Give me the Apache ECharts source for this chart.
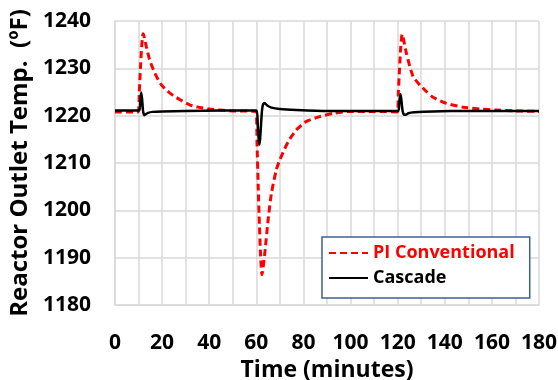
<!DOCTYPE html>
<html>
<head>
<meta charset="utf-8">
<script src="https://cdn.jsdelivr.net/npm/echarts@6/dist/echarts.min.js"></script>
<style>
  html, body { margin: 0; padding: 0; background: #fff; }
  #chart { width: 558px; height: 380px; }
</style>
</head>
<body>
<div id="chart"></div>
<script>
// PI conventional controller response (time in minutes, temp in °F)
const piTime = [0, 9.8, 10.3, 10.8, 11.3, 11.9, 12.3, 13.3, 14.7, 16.9, 19.7, 23.2, 27.5, 31.7, 35.2, 42, 50, 59.8,
  60.3, 60.8, 61.3, 61.8, 62.4, 63.6, 65.0, 66.4, 68.5, 70, 73.5, 77, 81.3, 86.9, 92.6, 99.7, 110, 119.8,
  120.3, 120.8, 121.3, 121.9, 122.3, 123.7, 126.5, 129.4, 132.2, 135, 140.7, 147.8, 154.9, 161.9, 170, 180];
const piTemp = [1220.8, 1220.8, 1225, 1230, 1234.5, 1237.3, 1236.8, 1234.6, 1231.8, 1229.0, 1226.5, 1224.8, 1223.4, 1222.3, 1221.8, 1221.3, 1221.0, 1220.9,
  1214, 1205, 1197, 1190.5, 1186.4, 1191.0, 1198.0, 1203.6, 1208.6, 1210.7, 1214.5, 1217.0, 1218.8, 1219.8, 1220.5, 1220.9, 1220.9, 1220.8,
  1225, 1230, 1234.5, 1237.2, 1236.6, 1233.2, 1228.3, 1226.5, 1225.1, 1223.9, 1222.6, 1221.8, 1221.4, 1221.2, 1221.0, 1220.9];

// Cascade controller response
const cascadeTime = [0, 10.3, 10.7, 11.1, 11.5, 11.9, 12.4, 13, 14, 16, 20, 30, 45, 60.1,
  60.6, 61.1, 61.4, 61.8, 62.3, 62.8, 63.5, 64.5, 66.4, 70, 77, 90, 105, 120.3,
  120.7, 121.2, 121.6, 122.1, 122.7, 123.4, 124.5, 127, 135, 150, 180];
const cascadeTemp = [1221.1, 1221.1, 1223, 1224.9, 1223.5, 1221, 1220.1, 1220.3, 1220.6, 1220.8, 1220.9, 1221.0, 1221.1, 1221.1,
  1218, 1214.5, 1213.9, 1216.5, 1220.5, 1222.3, 1222.7, 1222.2, 1221.7, 1221.4, 1221.2, 1221.0, 1221.0, 1221.0,
  1223, 1224.6, 1223.2, 1221, 1220.2, 1220.2, 1220.5, 1220.7, 1220.9, 1221.0, 1221.0];

const seriesNames = ["PI Conventional", "Cascade"];
const xTickStep = 20;

const font = '"Open Sans", "Liberation Sans", sans-serif';
const gridColor = "#d9d9d9";

const chart = echarts.init(document.getElementById("chart"));

chart.setOption({
  backgroundColor: "#fff",
  animation: false,
  grid: { left: 115, right: 19, top: 21, bottom: 75, outerBoundsMode: "none" },
  xAxis: {
    type: "value",
    min: 0,
    max: 180,
    interval: 10,
    name: "Time (minutes)",
    nameLocation: "middle",
    nameGap: 51,
    nameTextStyle: { fontFamily: font, fontWeight: "bold", fontSize: 23, color: "#000" },
    axisLine: { show: true, lineStyle: { color: gridColor, width: 1.5 } },
    axisTick: { show: false },
    axisLabel: {
      fontFamily: font, fontWeight: "bold", fontSize: 21, color: "#000", margin: 28,
      formatter: v => (v % xTickStep === 0 ? String(v) : "")
    },
    splitLine: { show: true, lineStyle: { color: gridColor, width: 1.5 } }
  },
  yAxis: {
    type: "value",
    min: 1180,
    max: 1240,
    interval: 10,
    name: "Reactor Outlet Temp.  (ºF)",
    nameLocation: "middle",
    nameRotate: 90,
    nameGap: 76,
    nameTextStyle: { fontFamily: font, fontWeight: "bold", fontSize: 24, color: "#000" },
    axisLine: { show: true, lineStyle: { color: gridColor, width: 1.5 } },
    axisTick: { show: false },
    axisLabel: {
      fontFamily: font, fontWeight: "bold", fontSize: 21, color: "#000", margin: 24,
      formatter: v => String(v)
    },
    splitLine: { show: true, lineStyle: { color: gridColor, width: 1.5 } }
  },
  legend: {
    orient: "vertical",
    left: 322,
    top: 237,
    padding: [7, 15, 11, 6],
    itemGap: 7,
    itemWidth: 39,
    itemHeight: 14,
    backgroundColor: "#fff",
    borderColor: "#3f5f99",
    borderWidth: 1.5,
    borderRadius: 0,
    itemStyle: { opacity: 0 },
    textStyle: { fontFamily: font, fontWeight: "bold", fontSize: 18, color: "#000" },
    data: [
      { name: seriesNames[0], textStyle: { color: "#ff0000" } },
      { name: seriesNames[1] }
    ]
  },
  series: [
    {
      name: seriesNames[0],
      type: "line",
      data: piTime.map((t, i) => [t, piTemp[i]]),
      symbol: "none",
      smooth: 0.2,
      lineStyle: { color: "#ff0000", width: 3, type: [7, 4] },
      itemStyle: { color: "#ff0000" }
    },
    {
      name: seriesNames[1],
      type: "line",
      data: cascadeTime.map((t, i) => [t, cascadeTemp[i]]),
      symbol: "none",
      smooth: 0.2,
      lineStyle: { color: "#000", width: 2.5 },
      itemStyle: { color: "#000" }
    }
  ]
});
</script>
</body>
</html>
